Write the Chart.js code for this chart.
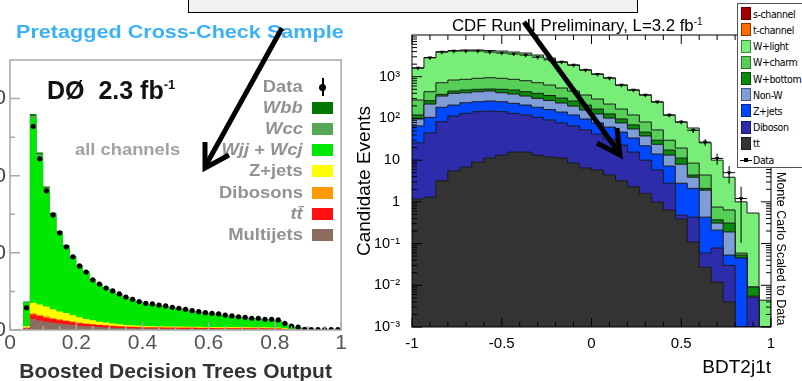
<!DOCTYPE html>
<html>
<head>
<meta charset="utf-8">
<title>BDT output: DØ pretagged sample and CDF BDT2j1t</title>
<script src="https://cdn.jsdelivr.net/npm/chart.js@4.4.1/dist/chart.umd.min.js"></script>
<style>
  html, body { margin: 0; padding: 0; background: #fff; }
  body { position: relative; width: 802px; height: 381px; overflow: hidden;
         font-family: "Liberation Sans", Arial, Helvetica, sans-serif; }
  canvas { position: absolute; top: 0; }
  #d0Chart { left: -40px; }
  #cdfChart { left: 348px; background: #fff; }
  .txt { position: absolute; white-space: nowrap; }
  .d0lbl { position: absolute; right: 499px; color: #929292; font-weight: bold; font-size: 16px;
           line-height: 18px; white-space: nowrap; transform: scaleX(1.15); transform-origin: right center; }
  .d0sw { position: absolute; left: 312px; width: 21px; height: 12px; }
  #cdfLegend { position: absolute; left: 737px; top: 3px; width: 80px; height: 163px;
               border: 1px solid #555; background: #fff; }
  #cdfLegend .sw { position: absolute; left: 3px; width: 10px; height: 13px; box-sizing: border-box;
                   border: 1px solid rgba(0,0,0,0.45); }
  #cdfLegend .lt { position: absolute; left: 15px; font-size: 10.5px; line-height: 12px; letter-spacing: -0.4px;
                   font-family: "Liberation Sans Narrow", "DejaVu Sans Condensed", "Liberation Sans", sans-serif; }
  #topBox { position: absolute; left: 188px; top: -4px; width: 450px; height: 17px; box-sizing: border-box;
            background: #f1f1f1; border: 1.5px solid #000; }
  svg { position: absolute; left: 0; top: 0; }
</style>
</head>
<body>
<canvas id="d0Chart" width="388" height="381"></canvas>
<canvas id="cdfChart" width="454" height="381"></canvas>

<div class="txt" style="left:16px; top:21px; font-size:18px; line-height:22px; font-weight:bold; color:#3cb2f6; transform:scaleX(1.2); transform-origin:left center;">Pretagged Cross-Check Sample</div>
<div class="txt" style="left:47px; top:70px; font-size:25px; line-height:30px; font-weight:bold; color:#111;">DØ&nbsp;&nbsp;2.3 fb<sup style="font-size:13px; vertical-align:10px;">-1</sup></div>
<div class="txt" style="left:75px; top:140px; font-size:17px; line-height:20px; font-weight:bold; color:#a2a2a2; transform:scaleX(1.08); transform-origin:left center;">all channels</div>
<div id="d0Legend"></div>

<div class="txt" style="left:452px; top:13px; font-size:16.8px; line-height:18px; color:#000;">CDF Run II Preliminary, L=3.2 fb<sup style="font-size:10px; vertical-align:6px;">-1</sup></div>
<div id="cdfLegend"></div>
<div class="txt" style="left:788px; top:172px; font-size:12.5px; line-height:14px; color:#000; transform-origin:0 0; transform:rotate(90deg);">Monte Carlo Scaled to Data</div>

<div id="topBox"></div>
<svg width="802" height="381">
  <g fill="none" stroke="#000" stroke-width="5">
    <line x1="282" y1="28" x2="206" y2="165"/>
    <polyline points="205,142 205,168 229,155"/>
    <line x1="524" y1="22" x2="618" y2="151"/>
    <polyline points="617,128 620,155 597,143"/>
  </g>
</svg>

<script>
// ---------------- DØ: pretagged cross-check sample (50 bins of 0.02) ----------------
// stack heights are cumulative (bottom layer first)
const d0Data = [0, 0, 145, 1320, 1110, 902, 746, 630, 539, 474, 415, 376, 325, 298, 272, 253, 234, 214, 199, 184,
  173, 169, 162, 156, 147, 141, 134, 125, 119, 112, 108, 104, 97, 91, 86, 82, 76, 76, 69, 69,
  65, 43, 26, 18, 5, 2, 2, 2, 2, 2];
const d0Multijets = [0, 0, 6, 72, 62, 54, 47, 42, 38, 33, 28, 25, 22, 19, 17, 15, 13, 12, 11, 10,
  10, 9, 9, 8, 8, 8, 7, 7, 7, 7, 6, 6, 6, 6, 6, 5, 5, 5, 5, 5, 5, 3, 2, 1, 0, 0, 0, 0, 0, 0];
const d0Ttbar = [0, 0, 13, 100, 90, 80, 71, 64, 58, 50, 44, 39, 35, 32, 29, 26, 23, 21, 19, 18,
  17, 16, 16, 15, 15, 14, 14, 14, 13, 13, 13, 12, 12, 12, 12, 11, 11, 11, 11, 10, 10, 6, 4, 2, 1, 0, 0, 0, 0, 0];
const d0Dibosons = [0, 0, 16, 110, 99, 89, 79, 71, 64, 56, 49, 44, 39, 36, 32, 29, 26, 24, 22, 21,
  20, 19, 19, 18, 18, 17, 17, 16, 16, 16, 15, 15, 15, 15, 14, 14, 14, 14, 13, 13, 13, 8, 5, 3, 1, 0, 0, 0, 0, 0];
const d0Zjets = [0, 0, 26, 177, 165, 153, 135, 120, 110, 95, 82, 72, 63, 54, 48, 42, 37, 33, 30, 28,
  26, 25, 24, 23, 22, 22, 21, 21, 21, 20, 20, 20, 19, 19, 19, 19, 18, 18, 18, 17, 17, 11, 7, 4, 2, 1, 1, 1, 1, 1];
const d0Wjj = [0, 0, 178, 1372, 1125, 910, 744, 627, 539, 471, 412, 373, 324, 294, 269, 249, 230, 212, 196, 182,
  171, 164, 158, 152, 144, 137, 130, 122, 115, 109, 104, 100, 94, 88, 83, 78, 74, 71, 67, 64,
  60, 40, 24, 14, 4, 2, 1, 1, 0, 0];
const d0Wcc = [0, 0, 182, 1388, 1140, 922, 753, 634, 545, 476, 416, 377, 327, 297, 272, 252, 233, 214, 198, 184,
  173, 166, 160, 154, 146, 139, 132, 124, 117, 111, 106, 102, 96, 90, 85, 80, 76, 73, 69, 66,
  62, 42, 26, 16, 5, 2, 1, 1, 0, 0];
const d0Wbb = [0, 0, 184, 1400, 1150, 930, 760, 640, 550, 480, 420, 380, 330, 300, 275, 255, 235, 216, 200, 186,
  175, 168, 162, 156, 148, 141, 134, 126, 119, 113, 108, 104, 98, 92, 87, 82, 78, 75, 71, 68,
  64, 44, 27, 17, 6, 3, 2, 2, 1, 1];
const d0XTicks = [0, 0.2, 0.4, 0.6, 0.8, 1];
const d0YTicks = [0, 500, 1000, 1500];
const d0LegendNames = ['Data', 'Wbb', 'Wcc', 'Wjj + Wcj', 'Z+jets', 'Dibosons', 'tt\u0304', 'Multijets'];
const d0LegendItalic = [false, true, true, true, false, false, true, false];
const d0LegendColors = [null, '#007800', '#55a655', '#00e800', '#ffff00', '#ff9900', '#ff1010', '#8c6e60'];

// ---------------- CDF: BDT2j1t (30 bins over -1..1, log scale) ----------------
const cdfData = [1620, 2860, 3900, 4150, 4150, 4150, 3900, 3700, 3500, 3300, 2950, 2550, 2250, 1900, 1450,
  1150, 930, 630, 480, 365, 250, 120, 82, 52, 27, 11, 5, 1.2, 0, 0];
const cdfTtbar = [1.17, 1.3, 3.2, 5.5, 6.8, 9.0, 11.2, 13.2, 15.6, 15.6, 13.2, 11.9, 11.2, 8.5, 6.5,
  5.8, 4.4, 3.2, 2.3, 1.6, 0.99, 0.64, 0.39, 0.109, 0.027, 0.012, 0.004, 0, 0, 0];
const cdfDiboson = [26, 45, 83, 114, 132, 145, 150, 145, 132, 121, 106, 92, 78, 66, 53,
  42, 32, 23, 15.6, 10, 5.8, 2.8, 0.48, 0.43, 0.059, 0.078, 0.03, 0, 0.0052, 0];
const cdfZjets = [66, 106, 185, 209, 238, 251, 261, 251, 230, 209, 185, 163, 142, 121, 97,
  78, 62, 47, 34, 22, 14, 7.2, 2.8, 2.1, 0.43, 0.21, 0.053, 0.045, 0.0052, 0];
const cdfNonW = [97, 221, 344, 400, 413, 437, 454, 413, 385, 344, 303, 269, 234, 198, 159,
  128, 102, 78, 56, 38, 24, 13.2, 8.0, 3.9, 1.9, 0.31, 0.19, 0.045, 0.0055, 0];
const cdfWbottom = [121, 266, 378, 454, 480, 499, 507, 499, 480, 437, 400, 354, 308, 261, 209,
  168, 128, 97, 70, 47, 30, 17.5, 11.2, 4.4, 2.1, 0.37, 0.31, 0.053, 0.0091, 0];
const cdfWcharm = [276, 437, 718, 834, 866, 916, 946, 916, 866, 802, 718, 632, 536, 454, 364,
  292, 221, 168, 121, 82, 53, 30, 19.5, 8.5, 4.4, 0.75, 0.64, 0.059, 0.0091, 0];
const cdfWlight = [1620, 2860, 3980, 4200, 4370, 4370, 4250, 4130, 3910, 3700, 3310, 2800, 2250, 1910, 1450,
  1160, 930, 630, 480, 365, 247, 121, 82, 59, 26, 10, 3.9, 1.0, 0.54, 0.0044];
const cdfXTicks = [-1, -0.5, 0, 0.5, 1];
const cdfYTicks = [1e-3, 1e-2, 1e-1, 1, 10, 100, 1000];
const cdfYTickLabels = ['10\u207B\u00B3', '10\u207B\u00B2', '10\u207B\u00B9', '1', '10', '10\u00B2', '10\u00B3'];
const cdfLegendNames = ['s-channel', 't-channel', 'W+light', 'W+charm', 'W+bottom', 'Non-W', 'Z+jets', 'Diboson', 'tt', 'Data'];
const cdfLegendColors = ['#a50000', '#ff6a00', '#78ee78', '#55cf55', '#0b8a0b', '#7f9ed8', '#0048ff', '#2d2dab', '#333333', null];

const CDF_YMIN = 1e-3, CDF_YMAX = 1e4;
const d0Edges = Array.from({ length: d0Data.length + 1 }, (_, i) => (i * 2) / 100);
const cdfEdges = Array.from({ length: cdfData.length + 1 }, (_, i) => -1 + (i * 2) / cdfData.length);

// one point per left bin edge (stepped 'before'), closed by a drop at the last edge
function histPoints(edges, values, floor) {
  const pts = values.map((v, i) => ({ x: edges[i], y: v > 0 ? v : floor }));
  pts.push({ x: edges[values.length], y: floor });
  return pts;
}
function dataPoints(edges, values) {
  const pts = [];
  values.forEach((v, i) => { if (v > 0) pts.push({ x: (edges[i] + edges[i + 1]) / 2, y: v }); });
  return pts;
}
function histDataset(label, points, color, line, fill) {
  return { label, data: points, stepped: 'before', fill, backgroundColor: color,
    borderColor: line || 'rgba(0,0,0,0)', borderWidth: line ? 1 : 0, pointRadius: 0 };
}

// frame and inward ticks, ROOT style
const frameTicks = {
  id: 'frameTicks',
  afterDatasetsDraw(chart, args, o) {
    const { ctx, chartArea: a, scales: { x, y } } = chart;
    ctx.save();
    ctx.strokeStyle = o.color;
    ctx.lineWidth = o.width;
    ctx.beginPath();
    o.xTicks.forEach(([v, len]) => {
      const px = x.getPixelForValue(v);
      ctx.moveTo(px, a.bottom); ctx.lineTo(px, a.bottom - len);
      if (o.mirror) { ctx.moveTo(px, a.top); ctx.lineTo(px, a.top + len); }
    });
    o.yTicks.forEach(([v, len]) => {
      const py = y.getPixelForValue(v);
      ctx.moveTo(a.left, py); ctx.lineTo(a.left + len, py);
      if (o.mirror) { ctx.moveTo(a.right, py); ctx.lineTo(a.right - len, py); }
    });
    ctx.stroke();
    ctx.strokeRect(a.left, a.top, a.right - a.left, a.bottom - a.top);
    ctx.restore();
  }
};

const cdfErrorBars = {
  id: 'cdfErrorBars',
  afterDatasetsDraw(chart) {
    const { ctx, chartArea: a, scales: { x, y } } = chart;
    ctx.save();
    ctx.beginPath();
    ctx.rect(a.left, a.top, a.right - a.left, a.bottom - a.top);
    ctx.clip();
    ctx.strokeStyle = '#000';
    ctx.lineWidth = 1;
    ctx.beginPath();
    cdfData.forEach((n, i) => {
      if (n <= 0) return;
      const err = Math.sqrt(n);
      const py = y.getPixelForValue(n);
      const cx = x.getPixelForValue((cdfEdges[i] + cdfEdges[i + 1]) / 2);
      ctx.moveTo(x.getPixelForValue(cdfEdges[i]), py);
      ctx.lineTo(x.getPixelForValue(cdfEdges[i + 1]), py);
      ctx.moveTo(cx, y.getPixelForValue(Math.max(n - err, CDF_YMIN)));
      ctx.lineTo(cx, y.getPixelForValue(n + err));
    });
    ctx.stroke();
    ctx.restore();
  }
};

const d0XTickMarks = [];
for (let i = 0; i <= 20; i++) d0XTickMarks.push([i * 0.05, i % 4 === 0 ? 8 : 4]);
const d0YTickMarks = [[0, 10], [250, 5], [500, 10], [750, 5], [1000, 10], [1250, 5], [1500, 10]];

const cdfXTickMarks = [];
for (let i = 0; i <= 20; i++) cdfXTickMarks.push([-1 + i * 0.1, i % 5 === 0 ? 9 : 5]);
const cdfYTickMarks = [];
for (let e = -3; e <= 3; e++) {
  for (let m = 1; m <= 9; m++) cdfYTickMarks.push([m * Math.pow(10, e), m === 1 ? 10 : 5]);
}

const noGrid = { display: false, drawTicks: false };

// ---- DØ chart ----
const d0Layers = [
  ['Multijets', d0Multijets, '#8c6e60'],
  ['tt', d0Ttbar, '#ff1010'],
  ['Dibosons', d0Dibosons, '#ff9900'],
  ['Z+jets', d0Zjets, '#ffff00'],
  ['Wjj + Wcj', d0Wjj, '#00e800'],
  ['Wcc', d0Wcc, '#55a655'],
  ['Wbb', d0Wbb, '#007800']
];

new Chart(document.getElementById('d0Chart'), {
  type: 'line',
  data: {
    datasets: [
      { label: 'Data', data: dataPoints(d0Edges, d0Data), showLine: false,
        pointRadius: 2.6, pointBackgroundColor: '#000', pointBorderWidth: 0 },
      ...d0Layers.map(([label, vals, color]) => histDataset(label, histPoints(d0Edges, vals, 0), color, null, 'origin'))
    ]
  },
  options: {
    responsive: false, animation: false, events: [],
    layout: { autoPadding: false, padding: { top: 60, right: 3, left: 0, bottom: 0 } },
    plugins: {
      legend: { display: false }, tooltip: { enabled: false },
      frameTicks: { color: '#a8a8a8', width: 1.5, mirror: false, xTicks: d0XTickMarks, yTicks: d0YTickMarks }
    },
    scales: {
      x: {
        type: 'linear', min: 0, max: 1,
        afterFit: s => { s.height = 51; },
        afterBuildTicks: s => { s.ticks = d0XTicks.map(value => ({ value })); },
        grid: noGrid, border: { display: false },
        ticks: { autoSkip: false, maxRotation: 0, padding: 1, color: '#555',
                 font: { family: 'Liberation Sans', size: 21 }, callback: v => String(v) },
        title: { display: true, text: 'Boosted Decision Trees Output', color: '#333',
                 font: { family: 'Liberation Sans', size: 21, weight: 'bold', lineHeight: 0.85 },
                 padding: { top: 0, bottom: 0 } }
      },
      y: {
        type: 'linear', min: 0, max: 1750,
        afterFit: s => { s.width = 50; },
        afterBuildTicks: s => { s.ticks = d0YTicks.map(value => ({ value })); },
        grid: noGrid, border: { display: false },
        ticks: { autoSkip: false, padding: 4, color: '#444',
                 font: { family: 'Liberation Sans', size: 21 }, callback: v => String(v) }
      }
    }
  },
  plugins: [frameTicks]
});

// ---- CDF chart ----
const cdfLayers = [
  ['tt', cdfTtbar, '#333333'],
  ['Diboson', cdfDiboson, '#2d2dab'],
  ['Z+jets', cdfZjets, '#0048ff'],
  ['Non-W', cdfNonW, '#7f9ed8'],
  ['W+bottom', cdfWbottom, '#0b8a0b'],
  ['W+charm', cdfWcharm, '#55cf55'],
  ['W+light', cdfWlight, '#78ee78']
];

new Chart(document.getElementById('cdfChart'), {
  type: 'line',
  data: {
    datasets: [
      { label: 'Data', data: dataPoints(cdfEdges, cdfData), showLine: false,
        pointStyle: 'triangle', rotation: 180, pointRadius: 2.6,
        pointBackgroundColor: '#000', pointBorderColor: '#000', pointBorderWidth: 0 },
      ...cdfLayers.map(([label, vals, color]) => histDataset(label, histPoints(cdfEdges, vals, CDF_YMIN), color, '#1b1b1b', 'start'))
    ]
  },
  options: {
    responsive: false, animation: false, events: [],
    layout: { autoPadding: false, padding: { top: 35, right: 31, left: 0, bottom: 0 } },
    plugins: {
      legend: { display: false }, tooltip: { enabled: false },
      frameTicks: { color: '#000', width: 1, mirror: true, xTicks: cdfXTickMarks, yTicks: cdfYTickMarks }
    },
    scales: {
      x: {
        type: 'linear', min: -1, max: 1,
        afterFit: s => { s.height = 54; },
        afterBuildTicks: s => { s.ticks = cdfXTicks.map(value => ({ value })); },
        grid: noGrid, border: { display: false },
        ticks: { autoSkip: false, maxRotation: 0, padding: 8, color: '#000',
                 font: { family: 'Liberation Sans', size: 15 }, callback: v => String(v) },
        title: { display: true, text: 'BDT2j1t', align: 'end', color: '#000',
                 font: { family: 'Liberation Sans', size: 19 }, padding: { top: 0, bottom: 2 } }
      },
      y: {
        type: 'logarithmic', min: CDF_YMIN, max: CDF_YMAX,
        afterFit: s => { s.width = 64; },
        afterBuildTicks: s => { s.ticks = cdfYTicks.map(value => ({ value })); },
        grid: noGrid, border: { display: false },
        ticks: { autoSkip: false, padding: 12, color: '#000',
                 font: { family: 'Liberation Sans', size: 14.5 }, callback: (v, i) => cdfYTickLabels[i] },
        title: { display: true, text: 'Candidate Events', color: '#000',
                 font: { family: 'Liberation Sans', size: 19 }, padding: { top: 5, bottom: 0 } }
      }
    }
  },
  plugins: [cdfErrorBars, frameTicks]
});

// ---- legends (HTML text) ----
const d0Legend = document.getElementById('d0Legend');
d0LegendNames.forEach((name, i) => {
  const cy = 87 + i * 21.1;
  const t = document.createElement('div');
  t.className = 'd0lbl';
  t.style.top = (cy - 9) + 'px';
  if (d0LegendItalic[i]) t.style.fontStyle = 'italic';
  t.textContent = name;
  d0Legend.appendChild(t);
  if (d0LegendColors[i]) {
    const s = document.createElement('div');
    s.className = 'd0sw';
    s.style.top = (cy - 6) + 'px';
    s.style.background = d0LegendColors[i];
    d0Legend.appendChild(s);
  } else {
    d0Legend.insertAdjacentHTML('beforeend',
      `<div style="position:absolute; left:322px; top:${cy - 9}px; width:1.5px; height:18px; background:#000;"></div>` +
      `<div style="position:absolute; left:319px; top:${cy - 3}px; width:7px; height:7px; border-radius:50%; background:#000;"></div>`);
  }
});

const cdfLegend = document.getElementById('cdfLegend');
cdfLegendNames.forEach((name, i) => {
  const cy = 9.7 + i * 16.2;
  if (cdfLegendColors[i]) {
    cdfLegend.insertAdjacentHTML('beforeend',
      `<div class="sw" style="top:${cy - 6.5}px; background:${cdfLegendColors[i]};"></div>`);
  } else {
    cdfLegend.insertAdjacentHTML('beforeend',
      `<div style="position:absolute; left:2px; top:${cy}px; width:12px; height:1px; background:#000;"></div>` +
      `<div style="position:absolute; left:6px; top:${cy - 1.5}px; width:4px; height:4px; background:#000;"></div>`);
  }
  cdfLegend.insertAdjacentHTML('beforeend', `<div class="lt" style="top:${cy - 6}px;">${name}</div>`);
});
</script>
</body>
</html>
